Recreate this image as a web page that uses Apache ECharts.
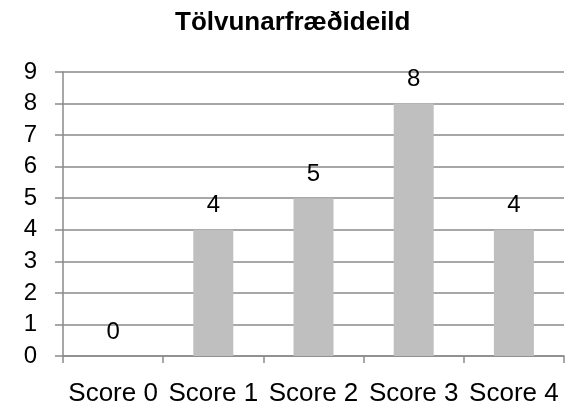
<!DOCTYPE html>
<html>
<head>
<meta charset="utf-8">
<script src="https://cdn.jsdelivr.net/npm/echarts@6/dist/echarts.min.js"></script>
<style>
  html, body { margin: 0; padding: 0; background: #fff; }
  #chart { width: 568px; height: 412px; }
</style>
</head>
<body>
<div id="chart"></div>
<script>
// data
var categories = ["Score 0", "Score 1", "Score 2", "Score 3", "Score 4"];
var counts = [0, 4, 5, 8, 4];
var chartTitle = "Tölvunarfræðideild";

var font = "'Liberation Sans', Arial, sans-serif";
var lineColor = "#8a8a8a";

var myChart = echarts.init(document.getElementById("chart"));
var option = {
  animation: false,
  title: {
    text: chartTitle,
    left: 175,
    top: 10,
    padding: 0,
    textStyle: {
      color: "#000",
      fontSize: 26,
      fontWeight: "bold",
      fontFamily: font,
    },
  },
  grid: {
    top: 72,
    bottom: 56,
    left: 63,
    right: 4,
    containLabel: false,
  },
  xAxis: {
    type: "category",
    data: categories,
    axisLine: { lineStyle: { color: lineColor, width: 1.5 } },
    axisTick: { show: true, length: 7, lineStyle: { color: lineColor, width: 1.5 } },
    axisLabel: {
      color: "#000",
      fontSize: 26,
      fontFamily: font,
      margin: 25,
      interval: 0,
    },
  },
  yAxis: {
    type: "value",
    min: 0,
    max: 9,
    interval: 1,
    axisLine: { show: true, lineStyle: { color: lineColor, width: 1.5 } },
    axisTick: { show: true, length: 8, lineStyle: { color: lineColor, width: 1.5 } },
    axisLabel: {
      color: "#000",
      fontSize: 24,
      fontFamily: font,
      margin: 26,
    },
    splitLine: { lineStyle: { color: lineColor, width: 1.5 } },
  },
  series: [
    {
      type: "bar",
      data: counts,
      barWidth: 40,
      itemStyle: { color: "#BFBFBF" },
      label: {
        show: true,
        position: "top",
        distance: 12,
        color: "#000",
        fontSize: 24,
        fontFamily: font,
      },
    },
  ],
};
myChart.setOption(option);
</script>
</body>
</html>
